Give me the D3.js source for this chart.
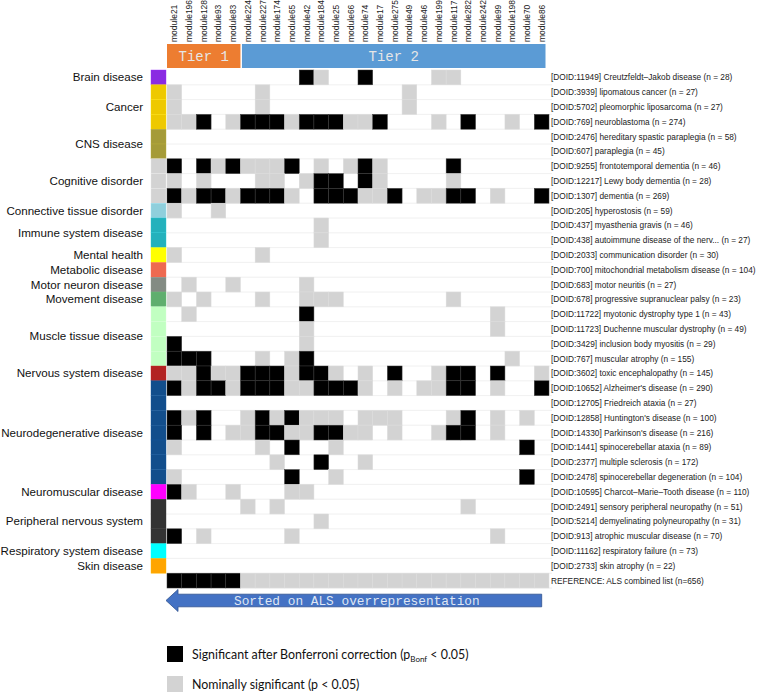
<!DOCTYPE html>
<html><head><meta charset="utf-8">
<script src="https://cdn.jsdelivr.net/npm/d3@7"></script>
<style>body{margin:0;background:#fff}svg{display:block}</style>
</head><body>
<script>
const modules = ["module21","module196","module128","module93","module83","module224","module227","module174","module65","module42","module184","module25","module66","module74","module17","module275","module49","module46","module199","module117","module282","module242","module99","module198","module70","module86"];
const tiers = [{name:"Tier 1", from:0, to:4},{name:"Tier 2", from:5, to:25}];
const categories = [
 {name:"Brain disease", n:1, color:"#8a2be2"},
 {name:"Cancer", n:3, color:"#eec900"},
 {name:"CNS disease", n:2, color:"#a59b38"},
 {name:"Cognitive disorder", n:3, color:"#d3d3d3"},
 {name:"Connective tissue disorder", n:1, color:"#8fcfdc"},
 {name:"Immune system disease", n:2, color:"#23b1bc"},
 {name:"Mental health", n:1, color:"#ffff00"},
 {name:"Metabolic disease", n:1, color:"#ee6a50"},
 {name:"Motor neuron disease", n:1, color:"#838b83"},
 {name:"Movement disease", n:1, color:"#5fae6e"},
 {name:"Muscle tissue disease", n:4, color:"#c1ffc1"},
 {name:"Nervous system disease", n:1, color:"#b22222"},
 {name:"Neurodegenerative disease", n:7, color:"#124e8c"},
 {name:"Neuromuscular disease", n:1, color:"#ff00ff"},
 {name:"Peripheral nervous system", n:3, color:"#333333"},
 {name:"Respiratory system disease", n:1, color:"#00ffff"},
 {name:"Skin disease", n:1, color:"#ffa500"}
];
const diseases = [
 "[DOID:11949] Creutzfeldt\u2013Jakob disease (n = 28)",
 "[DOID:3939] lipomatous cancer (n = 27)",
 "[DOID:5702] pleomorphic liposarcoma (n = 27)",
 "[DOID:769] neuroblastoma (n = 274)",
 "[DOID:2476] hereditary spastic paraplegia (n = 58)",
 "[DOID:607] paraplegia (n = 45)",
 "[DOID:9255] frontotemporal dementia (n = 46)",
 "[DOID:12217] Lewy body dementia (n = 28)",
 "[DOID:1307] dementia (n = 269)",
 "[DOID:205] hyperostosis (n = 59)",
 "[DOID:437] myasthenia gravis (n = 46)",
 "[DOID:438] autoimmune disease of the nerv... (n = 27)",
 "[DOID:2033] communication disorder (n = 30)",
 "[DOID:700] mitochondrial metabolism disease (n = 104)",
 "[DOID:683] motor neuritis (n = 27)",
 "[DOID:678] progressive supranuclear palsy (n = 23)",
 "[DOID:11722] myotonic dystrophy type 1 (n = 43)",
 "[DOID:11723] Duchenne muscular dystrophy (n = 49)",
 "[DOID:3429] inclusion body myositis (n = 29)",
 "[DOID:767] muscular atrophy (n = 155)",
 "[DOID:3602] toxic encephalopathy (n = 145)",
 "[DOID:10652] Alzheimer's disease (n = 290)",
 "[DOID:12705] Friedreich ataxia (n = 27)",
 "[DOID:12858] Huntington's disease (n = 100)",
 "[DOID:14330] Parkinson's disease (n = 216)",
 "[DOID:1441] spinocerebellar ataxia (n = 89)",
 "[DOID:2377] multiple sclerosis (n = 172)",
 "[DOID:2478] spinocerebellar degeneration (n = 104)",
 "[DOID:10595] Charcot\u2013Marie\u2013Tooth disease (n = 110)",
 "[DOID:2491] sensory peripheral neuropathy (n = 51)",
 "[DOID:5214] demyelinating polyneuropathy (n = 31)",
 "[DOID:913] atrophic muscular disease (n = 70)",
 "[DOID:11162] respiratory failure (n = 73)",
 "[DOID:2733] skin atrophy (n = 22)",
 "REFERENCE: ALS combined list (n=656)"
];
// 0 = not significant, 1 = nominally significant, 2 = Bonferroni significant
const significance = [
 "00000000021002000011000000",
 "10000010000000001000000000",
 "10000010000000001000000000",
 "11201222122211200010200102",
 "00000000000000000000000000",
 "00000000000000000000000000",
 "20212111201012100002000000",
 "10100011012202100001000000",
 "21221222102221120112201002",
 "10010000000000000000000000",
 "00000000001000000000000000",
 "00000000001000000000000000",
 "10000010000000000000000000",
 "00000000000000000000000000",
 "01001000010000000000000000",
 "10100010011100000001000000",
 "01000000020000000000001000",
 "00000000010000000000001000",
 "20000000010000000000000000",
 "22200010120000000000000100",
 "11211222122101020012202001",
 "21221222112221010112201002",
 "00000000000000000000000000",
 "21200121211101110001201010",
 "20201122112211010012201000",
 "10000010200100000000000020",
 "00000001002001000000000000",
 "10000000200100000000000020",
 "21001000110000000000000000",
 "00000101000000000000100000",
 "00000000001000000000000000",
 "20100000100000000000001000",
 "00000000000000000000000000",
 "00000000000000000000000000",
 "22222111111111111111111111"
];
const legendItems = [
 {level:2, label:"Significant after Bonferroni correction (p", sub:"Bonf", tail:" < 0.05)"},
 {level:1, label:"Nominally significant (p < 0.05)"}
];
const arrowLabel = "Sorted on ALS overrepresentation";

const fillFor = {0:"#ffffff", 1:"#d3d3d3", 2:"#000000"};
const strokeFor = {0:"none", 1:"#dcdcdc", 2:"#3a3a3a"};

const W = 758, H = 693;
const svg = d3.select("body").append("svg").attr("width", W).attr("height", H);

const x = d3.scaleBand().domain(modules).range([167, 549]);
const y = d3.scaleBand().domain(diseases).range([70, 70 + diseases.length * 14.8]);

// column labels
svg.append("g").selectAll("text").data(modules).join("text")
  .attr("transform", d => `translate(${x(d) + x.bandwidth()/2 + 3},42) rotate(-90)`)
  .attr("font-family", "'Liberation Sans', Arial, sans-serif")
  .attr("font-size", 8.5).attr("fill", "#222")
  .text(d => d);

// tier bars
const tierColors = ["#ed7d31", "#5b9bd5"];
const tg = svg.append("g");
tiers.forEach((t, i) => {
  const x0 = x(modules[t.from]) + (i === 1 ? 1.5 : 0);
  const x1 = x(modules[t.to]) + x.bandwidth() - (i === 1 ? 3.5 : 0);
  tg.append("rect").attr("x", x0).attr("y", 44).attr("width", x1 - x0).attr("height", 24).attr("fill", tierColors[i]);
  tg.append("text").attr("x", (x0 + x1)/2).attr("y", 61).attr("text-anchor", "middle")
    .attr("font-family", "'Liberation Mono', 'Courier New', monospace").attr("font-size", 14)
    .attr("fill", "#e6e6e6").text(t.name);
});

// row lines
svg.append("g").selectAll("line").data(diseases).join("line")
  .attr("x1", 167).attr("x2", 552)
  .attr("y1", d => y(d) + y.bandwidth()).attr("y2", d => y(d) + y.bandwidth())
  .attr("stroke", "#ececec").attr("stroke-width", 0.8);

// cells
const cells = [];
significance.forEach((row, ri) => {
  row.split("").forEach((v, ci) => { if (+v > 0) cells.push({r: diseases[ri], c: modules[ci], v: +v}); });
});
svg.append("g").selectAll("rect").data(cells).join("rect")
  .attr("x", d => x(d.c)).attr("y", d => y(d.r))
  .attr("width", x.bandwidth()).attr("height", y.bandwidth())
  .attr("fill", d => fillFor[d.v]).attr("stroke", d => strokeFor[d.v]).attr("stroke-width", 0.5);

// category strip and labels
let start = 0;
const cg = svg.append("g");
categories.forEach(cat => {
  const rows = diseases.slice(start, start + cat.n);
  rows.forEach(r => {
    cg.append("rect").attr("x", 151).attr("y", y(r)).attr("width", 15).attr("height", y.bandwidth())
      .attr("fill", cat.color).attr("stroke", d3.color(cat.color).brighter(0.3)).attr("stroke-width", 0.4);
  });
  const yc = y(rows[0]) + (rows.length * y.bandwidth())/2;
  cg.append("text").attr("x", 143).attr("y", yc + 4).attr("text-anchor", "end")
    .attr("font-family", "'Liberation Sans', Arial, sans-serif").attr("font-size", 11.6).attr("fill", "#111")
    .text(cat.name);
  start += cat.n;
});

// right labels
svg.append("g").selectAll("text").data(diseases).join("text")
  .attr("x", 551).attr("y", d => y(d) + y.bandwidth()/2 + 3)
  .attr("font-family", "'Liberation Sans', Arial, sans-serif").attr("font-size", 8.3).attr("fill", "#222")
  .text(d => d);

// arrow
const ax0 = x(modules[0]) - 1, ax1 = 541.7, ay = 600.5;
const headW = 12, bodyH = 6.3, headH = 11;
svg.append("path")
  .attr("d", `M${ax0},${ay} L${ax0+headW},${ay-headH} L${ax0+headW},${ay-bodyH} L${ax1},${ay-bodyH} L${ax1},${ay+bodyH} L${ax0+headW},${ay+bodyH} L${ax0+headW},${ay+headH} Z`)
  .attr("fill", "#4472c4").attr("stroke", "#2f528f").attr("stroke-width", 0.8);
svg.append("text").attr("x", (ax0 + headW + ax1)/2 - 3).attr("y", ay + 4.5).attr("text-anchor", "middle")
  .attr("font-family", "'Liberation Mono', 'Courier New', monospace").attr("font-size", 12.8)
  .attr("fill", "#dfe6f3").text(arrowLabel);

// legend
const lg = svg.append("g");
legendItems.forEach((it, i) => {
  const ly = 646 + i * 30;
  lg.append("rect").attr("x", 167).attr("y", ly).attr("width", 16).attr("height", 16).attr("fill", fillFor[it.level]);
  const t = lg.append("text").attr("x", 192).attr("y", ly + 13)
    .attr("font-family", "Lato, 'Open Sans', sans-serif").attr("font-size", 12.4).attr("fill", "#111");
  t.append("tspan").text(it.label);
  if (it.sub) {
    t.append("tspan").attr("dy", 3).attr("font-size", 8).text(it.sub);
    t.append("tspan").attr("dy", -3).text(it.tail);
  }
});
</script>
</body></html>
